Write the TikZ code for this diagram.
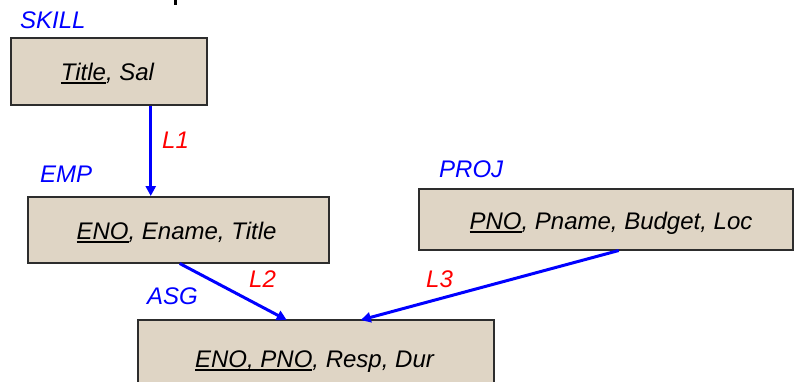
\documentclass[tikz,border=0pt]{standalone}
\usepackage{fontspec}
\setmainfont{Liberation Sans}
\usetikzlibrary{arrows.meta}
\definecolor{boxfill}{RGB}{223,213,197}
\definecolor{boxline}{RGB}{45,45,45}
\definecolor{linkblue}{RGB}{0,0,255}
\definecolor{labelred}{RGB}{255,0,0}
% key attributes: a thick rule just under the baseline
\newcommand\keyul[1]{\setbox0\hbox{#1}\rlap{\vrule height -2.2pt depth 4pt width \wd0}\box0}

\begin{document}
\begin{tikzpicture}[x=1pt,y=-1pt,
  relbox/.style={draw=boxline, line width=1.5pt, fill=boxfill, inner sep=0pt,
                 anchor=north west},
  attrs/.style={anchor=base, inner sep=0pt, font=\fontsize{24}{28}\selectfont\itshape},
  relname/.style={anchor=base west, inner sep=0pt, text=linkblue,
                  font=\fontsize{24}{28}\selectfont\itshape},
  linkname/.style={anchor=base west, inner sep=0pt, text=labelred,
                   font=\fontsize{24}{28}\selectfont\itshape},
  link/.style={draw=linkblue, line width=3pt,
               -{Triangle[length=10pt,width=10pt]}}]
\useasboundingbox (0,0) rectangle (794,381);
\clip (0,0) rectangle (794,381);

% fragment of the heading above
\fill[black] (174,0) rectangle (177,5);

% relation boxes
\node[relbox, minimum width=196pt, minimum height=67pt] (skill) at (10,37) {};
\node[relbox, minimum width=301pt, minimum height=66pt] (emp) at (27,196) {};
\node[relbox, minimum width=374pt, minimum height=61pt] (proj) at (418,188) {};
\node[relbox, minimum width=356pt, minimum height=80pt] (asg) at (137,319) {};

% attribute lists
\node[attrs] (skilltxt) at (107.5,80) {\keyul{Title}, Sal};
\node[attrs] (emptxt) at (176.5,239) {\keyul{ENO}, Ename, Title};
\node[attrs] (projtxt) at (611,229) {\keyul{PNO}, Pname, Budget, Loc};
\node[attrs] (asgtxt) at (314.5,367) {\keyul{ENO, PNO}, Resp, Dur};

% relation names
\node[relname] (skillname) at (20,28) {SKILL};
\node[relname] (empname) at (40,182) {EMP};
\node[relname] (projname) at (439,177) {PROJ};
\node[relname] (asgname) at (147,304) {ASG};

% links
\draw[link] ([xshift=42pt]skill.south) -- ([xshift=-27.5pt]emp.north);
\draw[link] ([xshift=1.5pt]emp.south) -- ([xshift=-29pt,yshift=-1pt]asg.north);
\draw[link] ([xshift=13pt]proj.south) -- ([xshift=45pt,yshift=-1pt]asg.north);

% link names
\node[linkname] (l1) at (162,148) {L1};
\node[linkname] (l2) at (249,287) {L2};
\node[linkname] (l3) at (426,287) {L3};
\end{tikzpicture}
\end{document}
